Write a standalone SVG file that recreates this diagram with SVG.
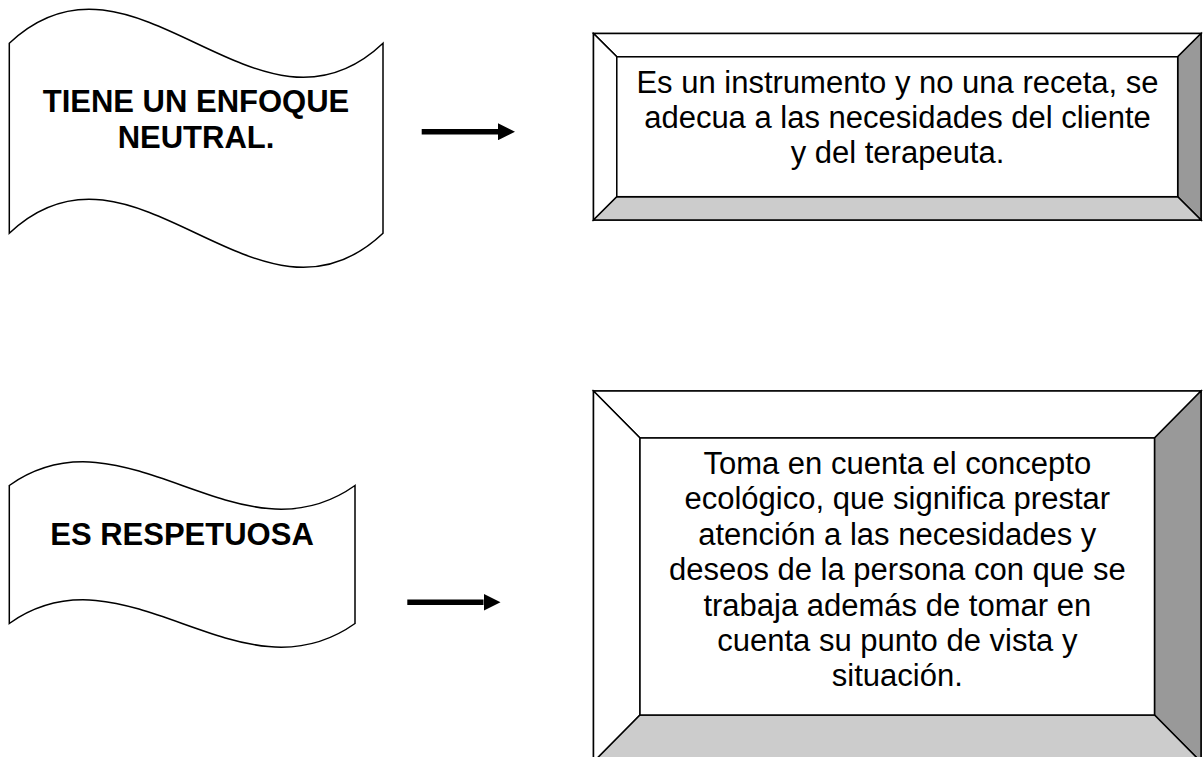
<svg xmlns="http://www.w3.org/2000/svg" width="1203" height="757" viewBox="0 0 1203 757">
  <style>
    .wave { fill: #ffffff; stroke: #000000; stroke-width: 1.5; }
    .outer { fill: #ffffff; stroke: #000000; stroke-width: 1.5; }
    .bev { stroke: #000000; stroke-width: 1.5; stroke-linejoin: miter; }
    .light { fill: #ffffff; }
    .mid { fill: #cccccc; }
    .dark { fill: #999999; }
    .inner { fill: #ffffff; stroke: #000000; stroke-width: 1.5; }
    .bold { font-family: "Liberation Sans", Arial, sans-serif; font-weight: bold; font-size: 31px; fill: #000000; text-anchor: middle; }
    .reg { font-family: "Liberation Sans", Arial, sans-serif; font-size: 31px; fill: #000000; text-anchor: middle; }
    .arrow { stroke: #000000; stroke-width: 5.5; fill: none; }
  </style>
  <defs>
    <marker id="head" viewBox="0 0 17 17" markerWidth="17" markerHeight="17" refX="0" refY="8.5" orient="auto" markerUnits="userSpaceOnUse">
      <path d="M0,0 L17,8.5 L0,17 Z" fill="#000000"/>
    </marker>
  </defs>
  <rect x="0" y="0" width="1203" height="757" fill="#ffffff"/>

  <g id="node-enfoque">
    <path class="wave" d="M 9.3,43.3 C 134,-74.7 258.3,161.3 383,43.3 L 383,233.3 C 258.3,351.3 134,115.3 9.3,233.3 Z"/>
    <text class="bold" x="196" y="112">TIENE UN ENFOQUE</text>
    <text class="bold" x="196" y="148">NEUTRAL.</text>
  </g>

  <g id="node-instrumento">
    <rect class="outer" x="593.5" y="33.5" width="607.5" height="186.5"/>
    <polygon class="bev light" points="593.5,33.5 1201,33.5 1177.7,56.8 616.8,56.8"/>
    <polygon class="bev light" points="593.5,33.5 616.8,56.8 616.8,196.7 593.5,220"/>
    <polygon class="bev dark" points="1201,33.5 1201,220 1177.7,196.7 1177.7,56.8"/>
    <polygon class="bev mid" points="593.5,220 616.8,196.7 1177.7,196.7 1201,220"/>
    <rect class="inner" x="616.8" y="56.8" width="560.9" height="139.9"/>
    <text class="reg" x="897.5" y="93">Es un instrumento y no una receta, se</text>
    <text class="reg" x="897.5" y="128">adecua a las necesidades del cliente</text>
    <text class="reg" x="897.5" y="163">y del terapeuta.</text>
  </g>

  <g id="node-respetuosa">
    <path class="wave" d="M 9.3,485.5 C 124.6,403.5 239.7,567.5 355,485.5 L 355,623.5 C 239.7,705.5 124.6,541.5 9.3,623.5 Z"/>
    <text class="bold" x="182" y="545">ES RESPETUOSA</text>
  </g>

  <g id="node-ecologico">
    <rect class="outer" x="593.5" y="391" width="607.5" height="371"/>
    <polygon class="bev light" points="593.5,391 1201,391 1154.5,438 640,438"/>
    <polygon class="bev light" points="593.5,391 640,438 640,715 593.5,762"/>
    <polygon class="bev dark" points="1201,391 1201,762 1154.5,715 1154.5,438"/>
    <polygon class="bev mid" points="593.5,762 640,715 1154.5,715 1201,762"/>
    <rect class="inner" x="640" y="438" width="514.5" height="277"/>
    <text class="reg" x="897.3" y="474">Toma en cuenta el concepto</text>
    <text class="reg" x="897.3" y="509.4">ecológico, que significa prestar</text>
    <text class="reg" x="897.3" y="544.8">atención a las necesidades y</text>
    <text class="reg" x="897.3" y="580.2">deseos de la persona con que se</text>
    <text class="reg" x="897.3" y="615.6">trabaja además de tomar en</text>
    <text class="reg" x="897.3" y="651">cuenta su punto de vista y</text>
    <text class="reg" x="897.3" y="686.4">situación.</text>
  </g>

  <g id="connectors">
    <line class="arrow" x1="421.7" y1="131.7" x2="498" y2="131.7" marker-end="url(#head)"/>
    <line class="arrow" x1="407.3" y1="602.3" x2="483.5" y2="602.3" marker-end="url(#head)"/>
  </g>
</svg>
